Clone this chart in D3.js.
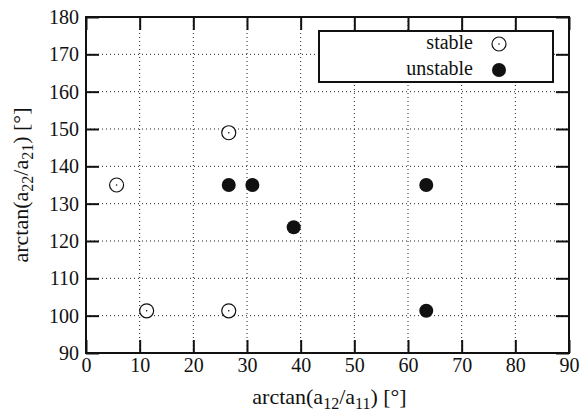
<!DOCTYPE html>
<html>
<head>
<meta charset="utf-8">
<script src="https://cdn.jsdelivr.net/npm/d3@7"></script>
<style>
  body { margin: 0; background: #fff; }
</style>
</head>
<body>
<svg id="chart" width="581" height="415" font-family="Liberation Serif, Times New Roman, Times, DejaVu Serif, serif"></svg>
<script>
// data (degrees)
var stableX = [5.7, 11.3, 26.6, 26.6];
var stableY = [135, 101.3, 101.3, 149];
var unstableX = [26.6, 31.0, 38.7, 63.4, 63.4];
var unstableY = [135, 135, 123.7, 135, 101.3];
var xTicks = [0, 10, 20, 30, 40, 50, 60, 70, 80, 90];
var yTicks = [90, 100, 110, 120, 130, 140, 150, 160, 170, 180];
var legendLabels = ["stable", "unstable"];

var serif = "Liberation Serif, Times New Roman, Times, DejaVu Serif, serif";
var svg = d3.select("#chart");
var margin = {left: 86, top: 17, right: 12, bottom: 62};
var W = 581 - margin.left - margin.right,
    H = 415 - margin.top - margin.bottom;

var x = d3.scaleLinear().domain([0, 90]).range([0, W]);
var y = d3.scaleLinear().domain([90, 180]).range([H, 0]);

var g = svg.append("g").attr("transform", "translate(" + margin.left + "," + margin.top + ")");

/* dotted grid */
g.selectAll(".vgrid").data(xTicks.slice(1, -1)).enter().append("line")
    .attr("x1", d => x(d)).attr("x2", d => x(d))
    .attr("y1", 0).attr("y2", H)
    .style("stroke", "#222").style("stroke-width", 1).style("stroke-dasharray", "1,3");
g.selectAll(".hgrid").data(yTicks.slice(1, -1)).enter().append("line")
    .attr("y1", d => y(d)).attr("y2", d => y(d))
    .attr("x1", 0).attr("x2", W)
    .style("stroke", "#222").style("stroke-width", 1).style("stroke-dasharray", "1,3");

/* axes: ticks inside on all four sides */
var tl = 13;
var ax = g.append("g").attr("class", "axes");
function styleAxis(sel) {
    sel.attr("font-family", serif).attr("font-size", 20);
    sel.select(".domain").remove();
    sel.selectAll(".tick line").style("stroke", "#111").style("stroke-width", 2);
    sel.selectAll("text").style("fill", "#111");
}
ax.append("g").attr("transform", "translate(0," + H + ")")
    .call(d3.axisBottom(x).tickValues(xTicks).tickSize(-tl).tickPadding(5))
    .call(styleAxis);
ax.append("g")
    .call(d3.axisTop(x).tickValues(xTicks).tickSize(-tl).tickFormat(""))
    .call(styleAxis);
ax.append("g")
    .call(d3.axisLeft(y).tickValues(yTicks).tickSize(-tl).tickPadding(7))
    .call(styleAxis);
ax.append("g").attr("transform", "translate(" + W + ",0)")
    .call(d3.axisRight(y).tickValues(yTicks).tickSize(-tl).tickFormat(""))
    .call(styleAxis);

g.append("rect").attr("width", W).attr("height", H)
    .style("fill", "none").style("stroke", "#111").style("stroke-width", 2);

/* points */
var stable = stableX.map((v, i) => ({x: v, y: stableY[i]}));
var unstable = unstableX.map((v, i) => ({x: v, y: unstableY[i]}));

function openMark(sel) {
    sel.append("circle").attr("r", 7)
        .style("fill", "#fff").style("stroke", "#111").style("stroke-width", 1.2);
    sel.append("circle").attr("r", 0.8).style("fill", "#111");
}
g.selectAll(".stable").data(stable).enter().append("g")
    .attr("transform", d => "translate(" + x(d.x) + "," + y(d.y) + ")")
    .call(openMark);
g.selectAll(".unstable").data(unstable).enter().append("circle")
    .attr("cx", d => x(d.x)).attr("cy", d => y(d.y)).attr("r", 7)
    .style("fill", "#111");

/* legend */
var lg = svg.append("g");
lg.append("rect").attr("x", 319).attr("y", 31).attr("width", 234).attr("height", 51)
    .style("fill", "#fff").style("stroke", "#111").style("stroke-width", 2);
legendLabels.forEach(function (lab, i) {
    var yy = 44 + i * 26;
    lg.append("text").attr("x", 473).attr("y", yy + 5)
        .attr("text-anchor", "end").attr("font-family", serif).attr("font-size", 20)
        .style("fill", "#111").text(lab);
    var m = lg.append("g").attr("transform", "translate(499," + yy + ")");
    if (i === 0) m.call(openMark);
    else m.append("circle").attr("r", 7).style("fill", "#111");
});

/* axis titles */
function title(t, a, b) {
    t.attr("font-family", serif).attr("font-size", 22).attr("text-anchor", "middle").style("fill", "#111");
    t.append("tspan").text("arctan(a");
    t.append("tspan").attr("dy", 5).attr("font-size", 16).text(a);
    t.append("tspan").attr("dy", -5).text("/a");
    t.append("tspan").attr("dy", 5).attr("font-size", 16).text(b);
    t.append("tspan").attr("dy", -5).text(") [°]");
}
svg.append("text").attr("x", margin.left + W / 2 + 2).attr("y", 404).call(title, "12", "11");
svg.append("text")
    .attr("transform", "translate(28," + (margin.top + H / 2) + ") rotate(-90)")
    .call(title, "22", "21");
</script>
</body>
</html>
